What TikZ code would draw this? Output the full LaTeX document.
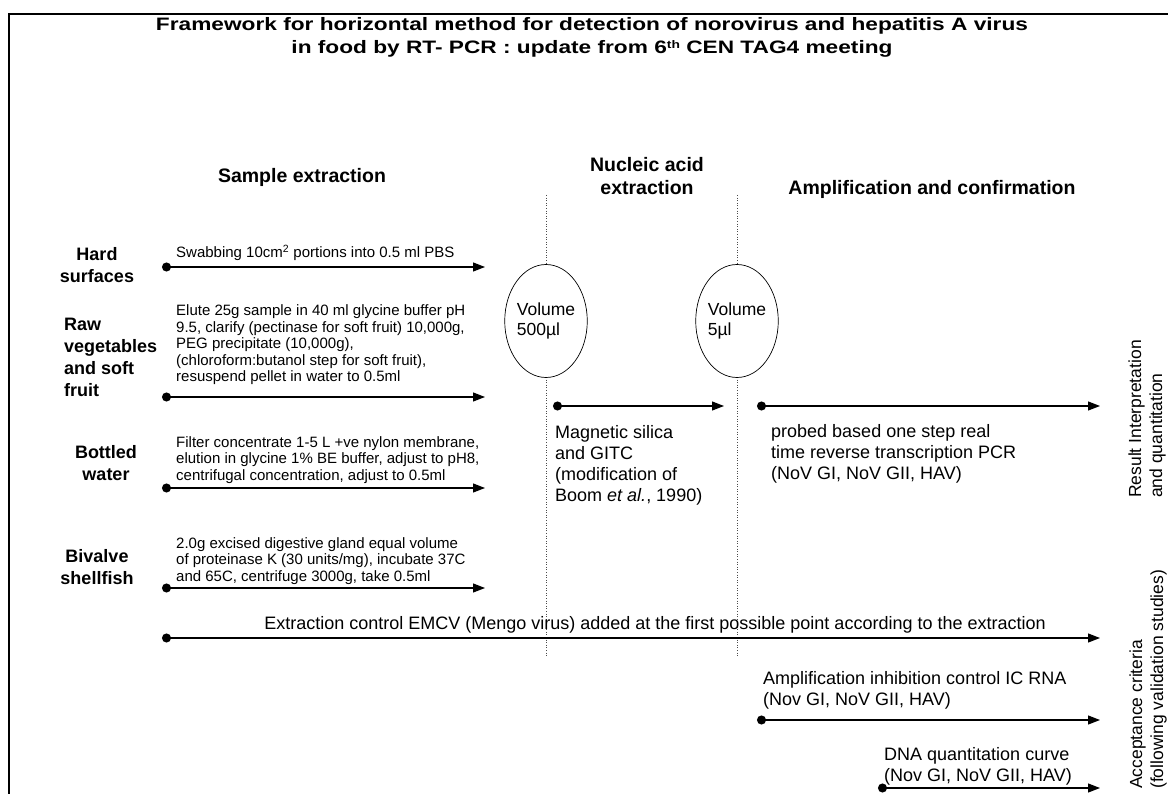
\documentclass[tikz,border=0pt]{standalone}
\usepackage{fontspec}
\setmainfont{Liberation Sans}
\newfontfamily\titlefont[FakeStretch=1.26]{Liberation Sans}
\usetikzlibrary{arrows.meta}
\usetikzlibrary{shapes.geometric}

\tikzset{
  flow arrow/.style={line width=1.2pt, {Circle[length=9pt]}-{Triangle[length=12pt,width=9pt]}},
  frame line/.style={line width=2pt},
  phase line/.style={dotted, line width=0.6pt, black!70},
  volume/.style={ellipse, draw, fill=white, line width=0.7pt, minimum width=81pt,
    minimum height=113pt, inner sep=0pt, align=left, font=\fontsize{17.5}{20}\selectfont},
  note/.style={inner sep=0pt, align=left, anchor=west, font=\fontsize{18}{21}\selectfont},
  small note/.style={inner sep=0pt, align=left, anchor=west, font=\fontsize{15}{16.5}\selectfont},
  food label/.style={inner sep=0pt, align=center, font=\bfseries\fontsize{18}{22}\selectfont},
  phase head/.style={inner sep=0pt, align=center, font=\bfseries\fontsize{19.5}{23}\selectfont},
  side label/.style={inner sep=0pt, align=left, rotate=90, anchor=west, font=\fontsize{17.5}{21}\selectfont},
}

\begin{document}
\begin{tikzpicture}[x=1pt, y=-1pt]
\useasboundingbox (0,0) rectangle (1168,794);
\draw [frame line] (9,794) -- (9,14) -- (1168,14);

\node [inner sep=0pt, align=center, font=\titlefont\bfseries\fontsize{18}{23}\selectfont] (title) at (592,37)
  {Framework for horizontal method for detection of norovirus and hepatitis A virus\\
   in food by RT- PCR : update from 6{\fontsize{11}{11}\selectfont\raisebox{5pt}{th}} CEN TAG4 meeting};

\node [phase head] (sample head) at (302,177) {Sample extraction};
\node [phase head] (nucleic head) at (647,176) {Nucleic acid\\extraction};
\node [phase head] (amplification head) at (932,189) {Amplification and confirmation};

\foreach \n/\x in {1/546, 2/737} {
  \coordinate (cut top \n) at (\x,195);
  \coordinate (cut bottom \n) at (\x,657);
  \draw [phase line] (cut top \n) -- (cut bottom \n);
}
\node [volume] (volume large) at (546,321) {Volume\\500µl};
\node [volume] (volume small) at (737,321) {Volume\\5µl};

\node [food label] (hard) at (97,265) {Hard\\surfaces};
\node [food label, align=left, anchor=west] (raw) at (64,357) {Raw\\vegetables\\and soft\\fruit};
\node [food label] (bottled) at (106,463) {Bottled\\water};
\node [food label] (bivalve) at (97,567) {Bivalve\\shellfish};

\foreach \n/\y in {1/267, 2/397, 3/488, 4/588} {
  \coordinate (sample start \n) at (162,\y);
  \coordinate (sample end \n) at (485,\y);
  \draw [flow arrow] (sample start \n) -- (sample end \n);
}
\node [small note] (swab text) at (176,253) {Swabbing 10cm\textsuperscript{2} portions into 0.5 ml PBS};
\node [small note] (elute text) at (176,345) {Elute 25g sample in 40 ml glycine buffer pH\\
  9.5, clarify (pectinase for soft fruit) 10,000g,\\PEG precipitate (10,000g),\\
  (chloroform:butanol step for soft fruit),\\resuspend pellet in water to 0.5ml};
\node [small note] (filter text) at (176,460) {Filter concentrate 1-5 L +ve nylon membrane,\\
  elution in glycine 1\% BE buffer, adjust to pH8,\\centrifugal concentration, adjust to 0.5ml};
\node [small note] (gland text) at (176,561) {2.0g excised digestive gland equal volume\\
  of proteinase K (30 units/mg), incubate 37C\\and 65C, centrifuge 3000g, take 0.5ml};

\coordinate (silica start) at (553,406);
\coordinate (silica end) at (724,406);
\coordinate (pcr start) at (757,406);
\coordinate (pcr end) at (1100,406);
\draw [flow arrow] (silica start) -- (silica end);
\draw [flow arrow] (pcr start) -- (pcr end);
\node [note] (silica text) at (555,465) {Magnetic silica\\and GITC\\(modification of\\Boom \textit{et al.}, 1990)};
\node [note] (pcr text) at (771,454) {probed based one step real\\time reverse transcription PCR\\(NoV GI, NoV GII, HAV)};

\coordinate (control start) at (162,638);
\coordinate (control end) at (1100,638);
\draw [flow arrow] (control start) -- (control end);
\node [note, anchor=center] (control text) at (655,625)
  {Extraction control EMCV (Mengo virus) added at the first possible point according to the extraction};

\coordinate (inhibition start) at (757,720);
\coordinate (inhibition end) at (1100,720);
\draw [flow arrow] (inhibition start) -- (inhibition end);
\node [note] (inhibition text) at (763,690) {Amplification inhibition control IC RNA\\(Nov GI, NoV GII, HAV)};

\coordinate (curve start) at (878,788);
\coordinate (curve end) at (1100,788);
\draw [flow arrow] (curve start) -- (curve end);
\node [note] (curve text) at (884,766) {DNA quantitation curve\\(Nov GI, NoV GII, HAV)};

\node [side label] (result label) at (1147,498) {Result Interpretation\\and quantitation};
\node [side label] (acceptance label) at (1148,789) {Acceptance criteria\\(following validation studies)};
\end{tikzpicture}
\end{document}
